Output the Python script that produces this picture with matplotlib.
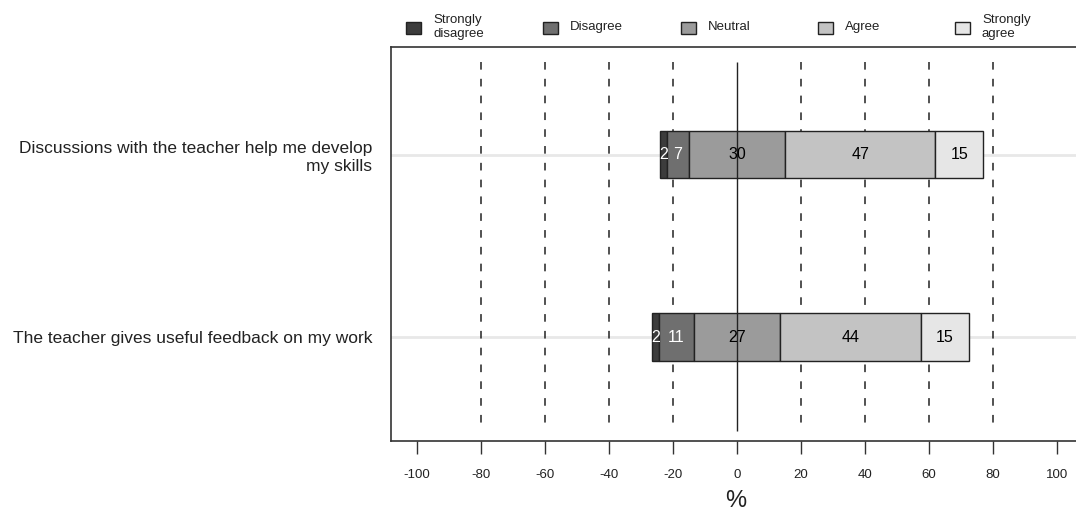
import numpy as np
import matplotlib
matplotlib.use('Agg')
import matplotlib.pyplot as plt
from matplotlib.patches import Rectangle

plt.rcParams['font.family'] = ['Liberation Sans', 'DejaVu Sans']

questions = ['Discussions with the teacher help me develop\nmy skills',
             'The teacher gives useful feedback on my work']
levels = ['Strongly\ndisagree', 'Disagree', 'Neutral', 'Agree', 'Strongly\nagree']
strongly_disagree = [2, 2]
disagree = [7, 11]
neutral = [30, 27]
agree = [47, 44]
strongly_agree = [15, 15]
colors = ['#3c3c3c', '#6f6f6f', '#9b9b9b', '#c3c3c3', '#e6e6e6']
text_colors = ['white', 'white', 'black', 'black', 'black']

data = np.array([strongly_disagree, disagree, neutral, agree, strongly_agree]).T

fig = plt.figure(figsize=(10.76, 5.13), dpi=100)
ax = fig.add_axes([0.3634, 0.1404, 0.64, 0.768])

ypos = np.array([1, 2])
ytop, ybot = 0.494, 2.516
# grid
for y in ypos:
    ax.axhline(y, color='#e8e8e8', lw=2, zorder=0)
ax.vlines([-80, -60, -40, -20, 20, 40, 60, 80], ytop, ybot, color='#222222',
          lw=1.1, linestyles=[(0, (5, 6))], zorder=1)

for i, y in enumerate(ypos):
    row = data[i]
    left = -(row[0] + row[1] + row[2] / 2)
    for k in range(5):
        ax.barh(y, row[k], left=left, height=0.26, color=colors[k],
                edgecolor='#222222', linewidth=1.0, zorder=2)
        ax.text(left + row[k] / 2, y, str(row[k]), ha='center', va='center',
                fontsize=11.5, color=text_colors[k], zorder=4)
        left += row[k]

ax.vlines(0, ytop, ybot, color='#222222', lw=1.0, zorder=3)

ax.set_xlim(-108.1, 107.1)
ax.set_ylim(2.57, 0.41)
ax.set_xticks(np.arange(-100, 101, 20))
ax.set_xticklabels([str(v) for v in range(-100, 101, 20)], fontsize=9.5)
ax.tick_params(axis='x', length=9, width=1, color='#333333', pad=11, labelcolor='#222222')
ax.set_yticks(ypos)
ax.set_yticklabels(questions, fontsize=12.5, color='#222222')
ax.tick_params(axis='y', length=0, pad=13.5)
ax.set_xlabel('%', fontsize=17, labelpad=7, color='#222222')
for s in ax.spines.values():
    s.set_color('#333333')
    s.set_linewidth(1.2)

# legend across the top
W, H = 1076, 513
for k, lab in enumerate(levels):
    x0 = 406 + k * 137.25
    fig.add_artist(Rectangle((x0 / W, 1 - 34 / H), 15 / W, 12 / H, facecolor=colors[k],
                             edgecolor='#222222', lw=1.0, transform=fig.transFigure))
    fig.text((x0 + 27) / W, 1 - 27 / H, lab, fontsize=9.5, va='center', ha='left',
             linespacing=1.15, color='#222222')

plt.savefig('out.png', dpi=100)
plt.close()
